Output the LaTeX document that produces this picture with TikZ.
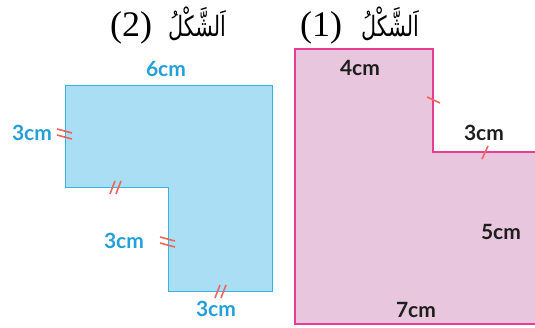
\documentclass[tikz,border=0pt]{standalone}
\usepackage{fontspec}
\setmainfont{Liberation Serif}
\newfontfamily\arabicfont[Script=Arabic]{DejaVu Sans}
\newfontfamily\labfont{Lato}
\TeXXeTstate=1
\definecolor{bfill}{RGB}{170,222,245}
\definecolor{bline}{RGB}{55,180,225}
\definecolor{btext}{RGB}{35,160,215}
\definecolor{pfill}{RGB}{232,198,222}
\definecolor{pline}{RGB}{232,60,150}
\definecolor{tick}{RGB}{240,100,90}
\definecolor{dtext}{RGB}{30,30,30}
\tikzset{
  blab/.style={text=btext,font=\labfont\bfseries\fontsize{21}{21}\selectfont,inner sep=0pt},
  dlab/.style={text=dtext,font=\labfont\bfseries\fontsize{21}{21}\selectfont,inner sep=0pt},
  tickmark/.style={draw=tick,line width=1.6pt},
  titlenum/.style={font=\fontsize{36}{36}\selectfont,inner sep=0pt},
  titlear/.style={font=\arabicfont\fontsize{28}{28}\selectfont,inner sep=0pt},
}
\begin{document}
\begin{tikzpicture}[x=1pt,y=-1pt]
\useasboundingbox (0,0) rectangle (535,327);
% shape 2 (blue)
\fill[bfill,draw=bline,line width=1pt] (65,85) -- (272,85) -- (272,291) -- (168,291) -- (168,187) -- (65,187) -- cycle;
% shape 1 (pink)
\begin{scope}
\clip (0,0) rectangle (535,327);
\fill[pfill,draw=pline,line width=1.2pt] (295,49) -- (433,49) -- (433,152) -- (540,152) -- (540,324) -- (295,324) -- cycle;
\end{scope}
% ticks shape 2
\draw[tickmark] (57,129) -- (72,133);
\draw[tickmark] (57,135) -- (72,139);
\draw[tickmark] (110,194) -- (115,181);
\draw[tickmark] (116,194) -- (121,181);
\draw[tickmark] (160,237) -- (175,241);
\draw[tickmark] (160,243) -- (175,247);
\draw[tickmark] (215,298) -- (220,285);
\draw[tickmark] (221,298) -- (226,285);
% ticks shape 1
\draw[tickmark] (427,97) -- (440,103);
\draw[tickmark] (482,159) -- (488,146);
% labels shape 2
\node[blab] (l6) at (166,69) {6cm};
\node[blab] (l3a) at (32,133) {3cm};
\node[blab] (l3b) at (124,241) {3cm};
\node[blab] (l3c) at (216,309) {3cm};
% labels shape 1
\node[dlab] (l4) at (360,68) {4cm};
\node[dlab] (l3d) at (484,133) {3cm};
\node[dlab] (l5) at (501,232) {5cm};
\node[dlab] (l7) at (416,310) {7cm};
% titles
\node[titlenum] (n2) at (131,28) {(2)};
\node[titlear] (a2) at (197,24) {\scalebox{0.74}[1]{\beginR اَلشَّكْلُ\endR}};
\node[titlenum] (n1) at (321,28) {(1)};
\node[titlear] (a1) at (390,24) {\scalebox{0.74}[1]{\beginR اَلشَّكْلُ\endR}};
\end{tikzpicture}
\end{document}
